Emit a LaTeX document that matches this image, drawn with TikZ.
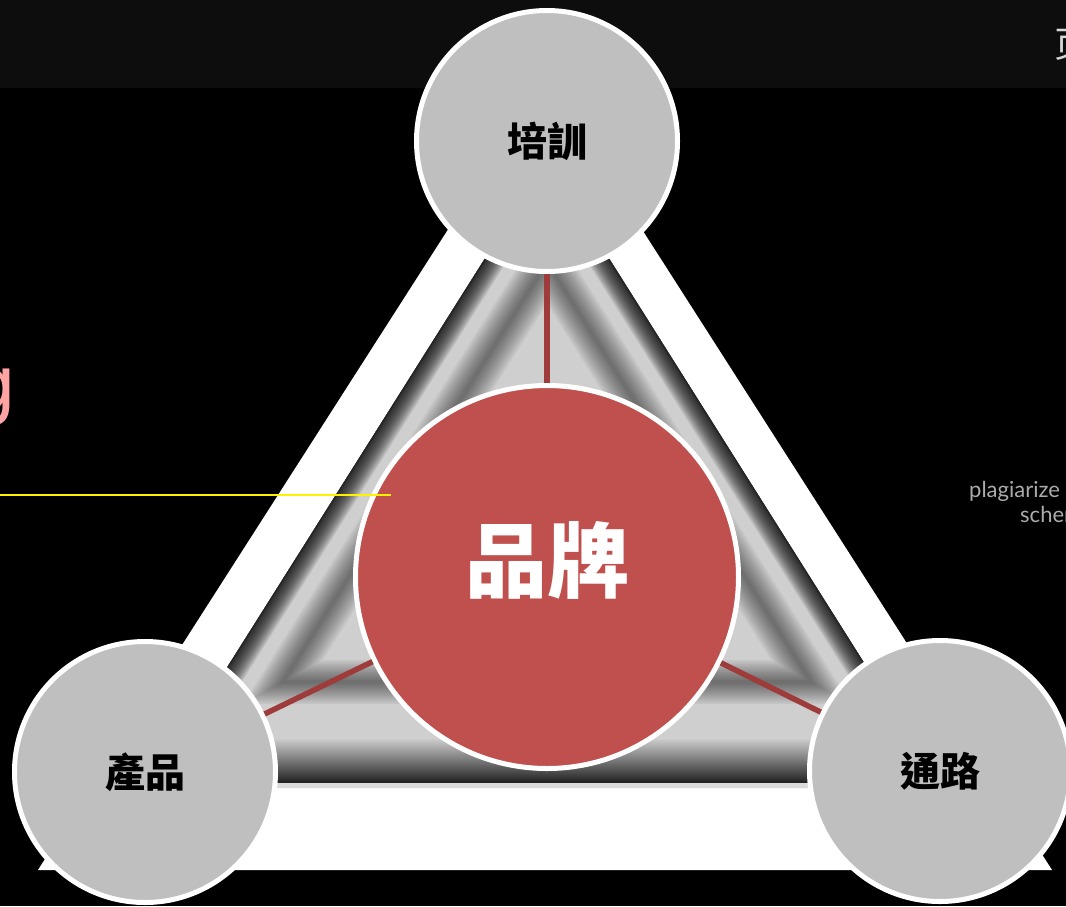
\documentclass[tikz,border=0pt]{standalone}
\usepackage{fontspec}
\setmainfont{Lato}
\newfontfamily\titlefont{DejaVu Sans}
\newfontfamily\cjk{Noto Sans CJK TC}
\newfontfamily\cjksc{Noto Sans CJK SC}
\definecolor{brandred}{HTML}{C0504D}
\definecolor{linkred}{HTML}{9E3B3B}
\definecolor{discgray}{HTML}{BFBFBF}
\definecolor{panelgray}{HTML}{CFCFCF}
\definecolor{topband}{HTML}{0D0D0D}
\definecolor{notegray}{HTML}{ABABAB}
\definecolor{pinkg}{HTML}{FFA3A3}
\tikzset{
	disc/.style={circle, draw=white, line width=5pt, fill=discgray, minimum size=261pt, inner sep=0pt,
		font=\cjk\bfseries\fontsize{40}{40}\selectfont},
	hub/.style={circle, draw=white, line width=5pt, fill=brandred, minimum size=383pt, inner sep=0pt},
	hubtext/.style={text=white, inner sep=0pt, font=\cjk\bfseries\fontsize{82}{82}\selectfont},
	link/.style={draw=linkred, line width=5.5pt},
	note/.style={anchor=base west, inner sep=0pt, text=notegray, font=\fontsize{22}{22}\selectfont}
}
\begin{document}
\begin{tikzpicture}[x=1pt,y=-1pt]
	\useasboundingbox (0,0) rectangle (1066,906);
	\fill[black] (0,0) rectangle (1066,906);
	\fill[topband] (0,0) rectangle (1066,88);
	\fill[white] (38,870) -- (1052,870) -- (545,78) -- cycle;
	\begin{scope}
		\clip (151,788) -- (943,788) -- (547,160) -- cycle;
		\fill[panelgray] (100,100) rectangle (1000,800);
		\shade[top color=panelgray, bottom color=black!88] (100,738) rectangle (1000,783);
		\fill[black!14] (100,783) rectangle (1000,788);
		\foreach \w in {4,7,...,40}
			\draw[black, opacity=0.1, line width=\w pt] (151,788) -- (547,160) -- (943,788);
		\draw[black!85, line width=3pt] (151,788) -- (547,160) -- (943,788);
		\foreach \w in {4,8,...,44}
			\draw[black, opacity=0.05, line width=\w pt, line join=miter] (283,682) -- (547,262) -- (811,682) -- cycle;
	\end{scope}
	\node[disc] (training) at (547,141) {培訓};
	\node[disc] (product) at (145,772) {產品};
	\node[disc] (channel) at (940,771) {通路};
	\node[hub] (brand) at (547,577) {};
	\node[hubtext] (brandtext) at (547,560) {品牌};
	\draw[link] (brand) -- (training);
	\draw[link] (brand) -- (product);
	\draw[link] (brand) -- (channel);
	\draw[yellow, line width=2pt] (0,495) -- (391,495);
	\node[anchor=base east, inner sep=0pt, text=pinkg, font=\titlefont\fontsize{76}{76}\selectfont] (title) at (17,410) {g};
	\node[note] (note1) at (969,497) {plagiarize};
	\node[note] (note2) at (1020,522) {scher};
	\node[anchor=base west, inner sep=0pt, text=black!15, font=\cjksc\fontsize{36}{36}\selectfont] (pagemark) at (1054,57) {页};
\end{tikzpicture}
\end{document}
